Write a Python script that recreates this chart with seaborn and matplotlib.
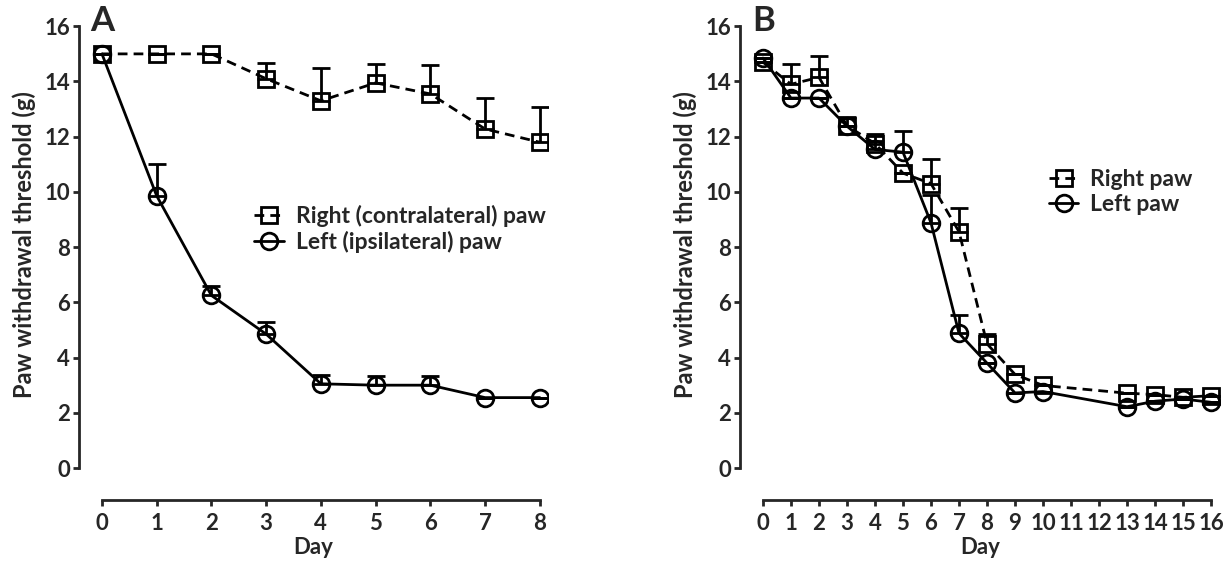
import matplotlib
matplotlib.use('Agg')
import matplotlib.pyplot as plt
import seaborn as sns
import numpy as np

# panel A
days_a = [0, 1, 2, 3, 4, 5, 6, 7, 8]
right_a = [15.0, 15.0, 15.0, 14.1, 13.3, 13.95, 13.55, 12.28, 11.8]
right_a_err = [0, 0, 0, 0.58, 1.2, 0.68, 1.05, 1.12, 1.26]
left_a = [15.0, 9.86, 6.25, 4.85, 3.05, 3.0, 3.0, 2.55, 2.55]
left_a_err = [0, 1.14, 0.35, 0.45, 0.33, 0.33, 0.33, 0, 0]

# panel B
days_b = [0, 1, 2, 3, 4, 5, 6, 7, 8, 9, 10, 13, 14, 15, 16]
right_b = [14.7, 13.9, 14.15, 12.4, 11.75, 10.68, 10.3, 8.56, 4.5, 3.39, 2.99, 2.71, 2.66, 2.56, 2.62]
right_b_err = [0, 0.72, 0.78, 0.3, 0.35, 0, 0.88, 0.84, 0.35, 0, 0, 0, 0, 0, 0]
left_b = [14.85, 13.4, 13.4, 12.38, 11.54, 11.44, 8.88, 4.88, 3.8, 2.72, 2.77, 2.22, 2.42, 2.5, 2.38]
left_b_err = [0, 0, 0, 0, 0.3, 0.76, 1.0, 0.67, 0, 0, 0, 0, 0, 0, 0]

sns.set_style('ticks')
plt.rcParams['font.family'] = ['Lato', 'DejaVu Sans']
plt.rcParams['font.weight'] = 'bold'
plt.rcParams['axes.labelweight'] = 'bold'
plt.rcParams['axes.linewidth'] = 2.0
plt.rcParams['xtick.major.width'] = 2.0
plt.rcParams['ytick.major.width'] = 2.0
plt.rcParams['xtick.major.size'] = 4.5
plt.rcParams['ytick.major.size'] = 4.5
plt.rcParams['xtick.major.pad'] = 5
plt.rcParams['ytick.major.pad'] = 2
plt.rcParams['xtick.labelsize'] = 16
plt.rcParams['ytick.labelsize'] = 16

fig = plt.figure(figsize=(12.26, 5.64), dpi=100)
ax_a = fig.add_axes([0.0644, 0.1702, 0.3826, 0.793])
ax_b = fig.add_axes([0.6036, 0.1702, 0.3915, 0.793])

mstyle = dict(markersize=12, markerfacecolor='none', markeredgecolor='black',
              markeredgewidth=2.0, linewidth=2.0, color='black')


def draw(ax, days, right, right_err, left, left_err, right_lbl, left_lbl):
    sns.lineplot(x=days, y=right, ax=ax, marker='s', linestyle=(0, (3.5, 2.2)),
                 label=right_lbl, **mstyle)
    sns.lineplot(x=days, y=left, ax=ax, marker='o', linestyle='-',
                 label=left_lbl, **mstyle)
    for y, e in [(right, right_err), (left, left_err)]:
        ax.errorbar(days, y, yerr=[np.zeros(len(e)), e], fmt='none',
                    ecolor='black', elinewidth=2.0, capsize=6.5, capthick=2.0)
    ax.set_ylim(0, 16.2)
    ax.set_yticks(range(0, 17, 2))
    ax.spines['bottom'].set_position(('outward', 23))
    ax.spines['left'].set_bounds(0, 16)
    ax.spines['right'].set_visible(False)
    ax.spines['top'].set_visible(False)
    ax.set_xlabel('Day', fontsize=16, fontweight='bold', labelpad=2)
    ax.set_ylabel('Paw withdrawal threshold (g)', fontsize=17,
                  fontweight='bold', labelpad=6)


draw(ax_a, days_a, right_a, right_a_err, left_a, left_a_err,
     'Right (contralateral) paw', 'Left (ipsilateral) paw')
ax_a.set_xlim(-0.42, 8.15)
ax_a.set_xticks(range(0, 9))
ax_a.spines['bottom'].set_bounds(0, 8)
ax_a.legend(loc='upper left', bbox_to_anchor=(0.33, 0.635), frameon=False,
            fontsize=16.5, handlelength=1.3, handletextpad=0.5, labelspacing=0.2)
ax_a.text(0.025, 1.035, 'A', transform=ax_a.transAxes, fontsize=25,
          fontweight='bold', va='top', ha='left')

draw(ax_b, days_b, right_b, right_b_err, left_b, left_b_err,
     'Right paw', 'Left paw')
ax_b.set_xlim(-0.82, 16.32)
ax_b.set_xticks(range(0, 17))
ax_b.spines['bottom'].set_bounds(0, 16)
ax_b.legend(loc='upper left', bbox_to_anchor=(0.6, 0.715), frameon=False,
            fontsize=16.5, handlelength=1.3, handletextpad=0.5, labelspacing=0.2)
ax_b.text(0.025, 1.035, 'B', transform=ax_b.transAxes, fontsize=25,
          fontweight='bold', va='top', ha='left')

fig.savefig('out.png', dpi=100)
